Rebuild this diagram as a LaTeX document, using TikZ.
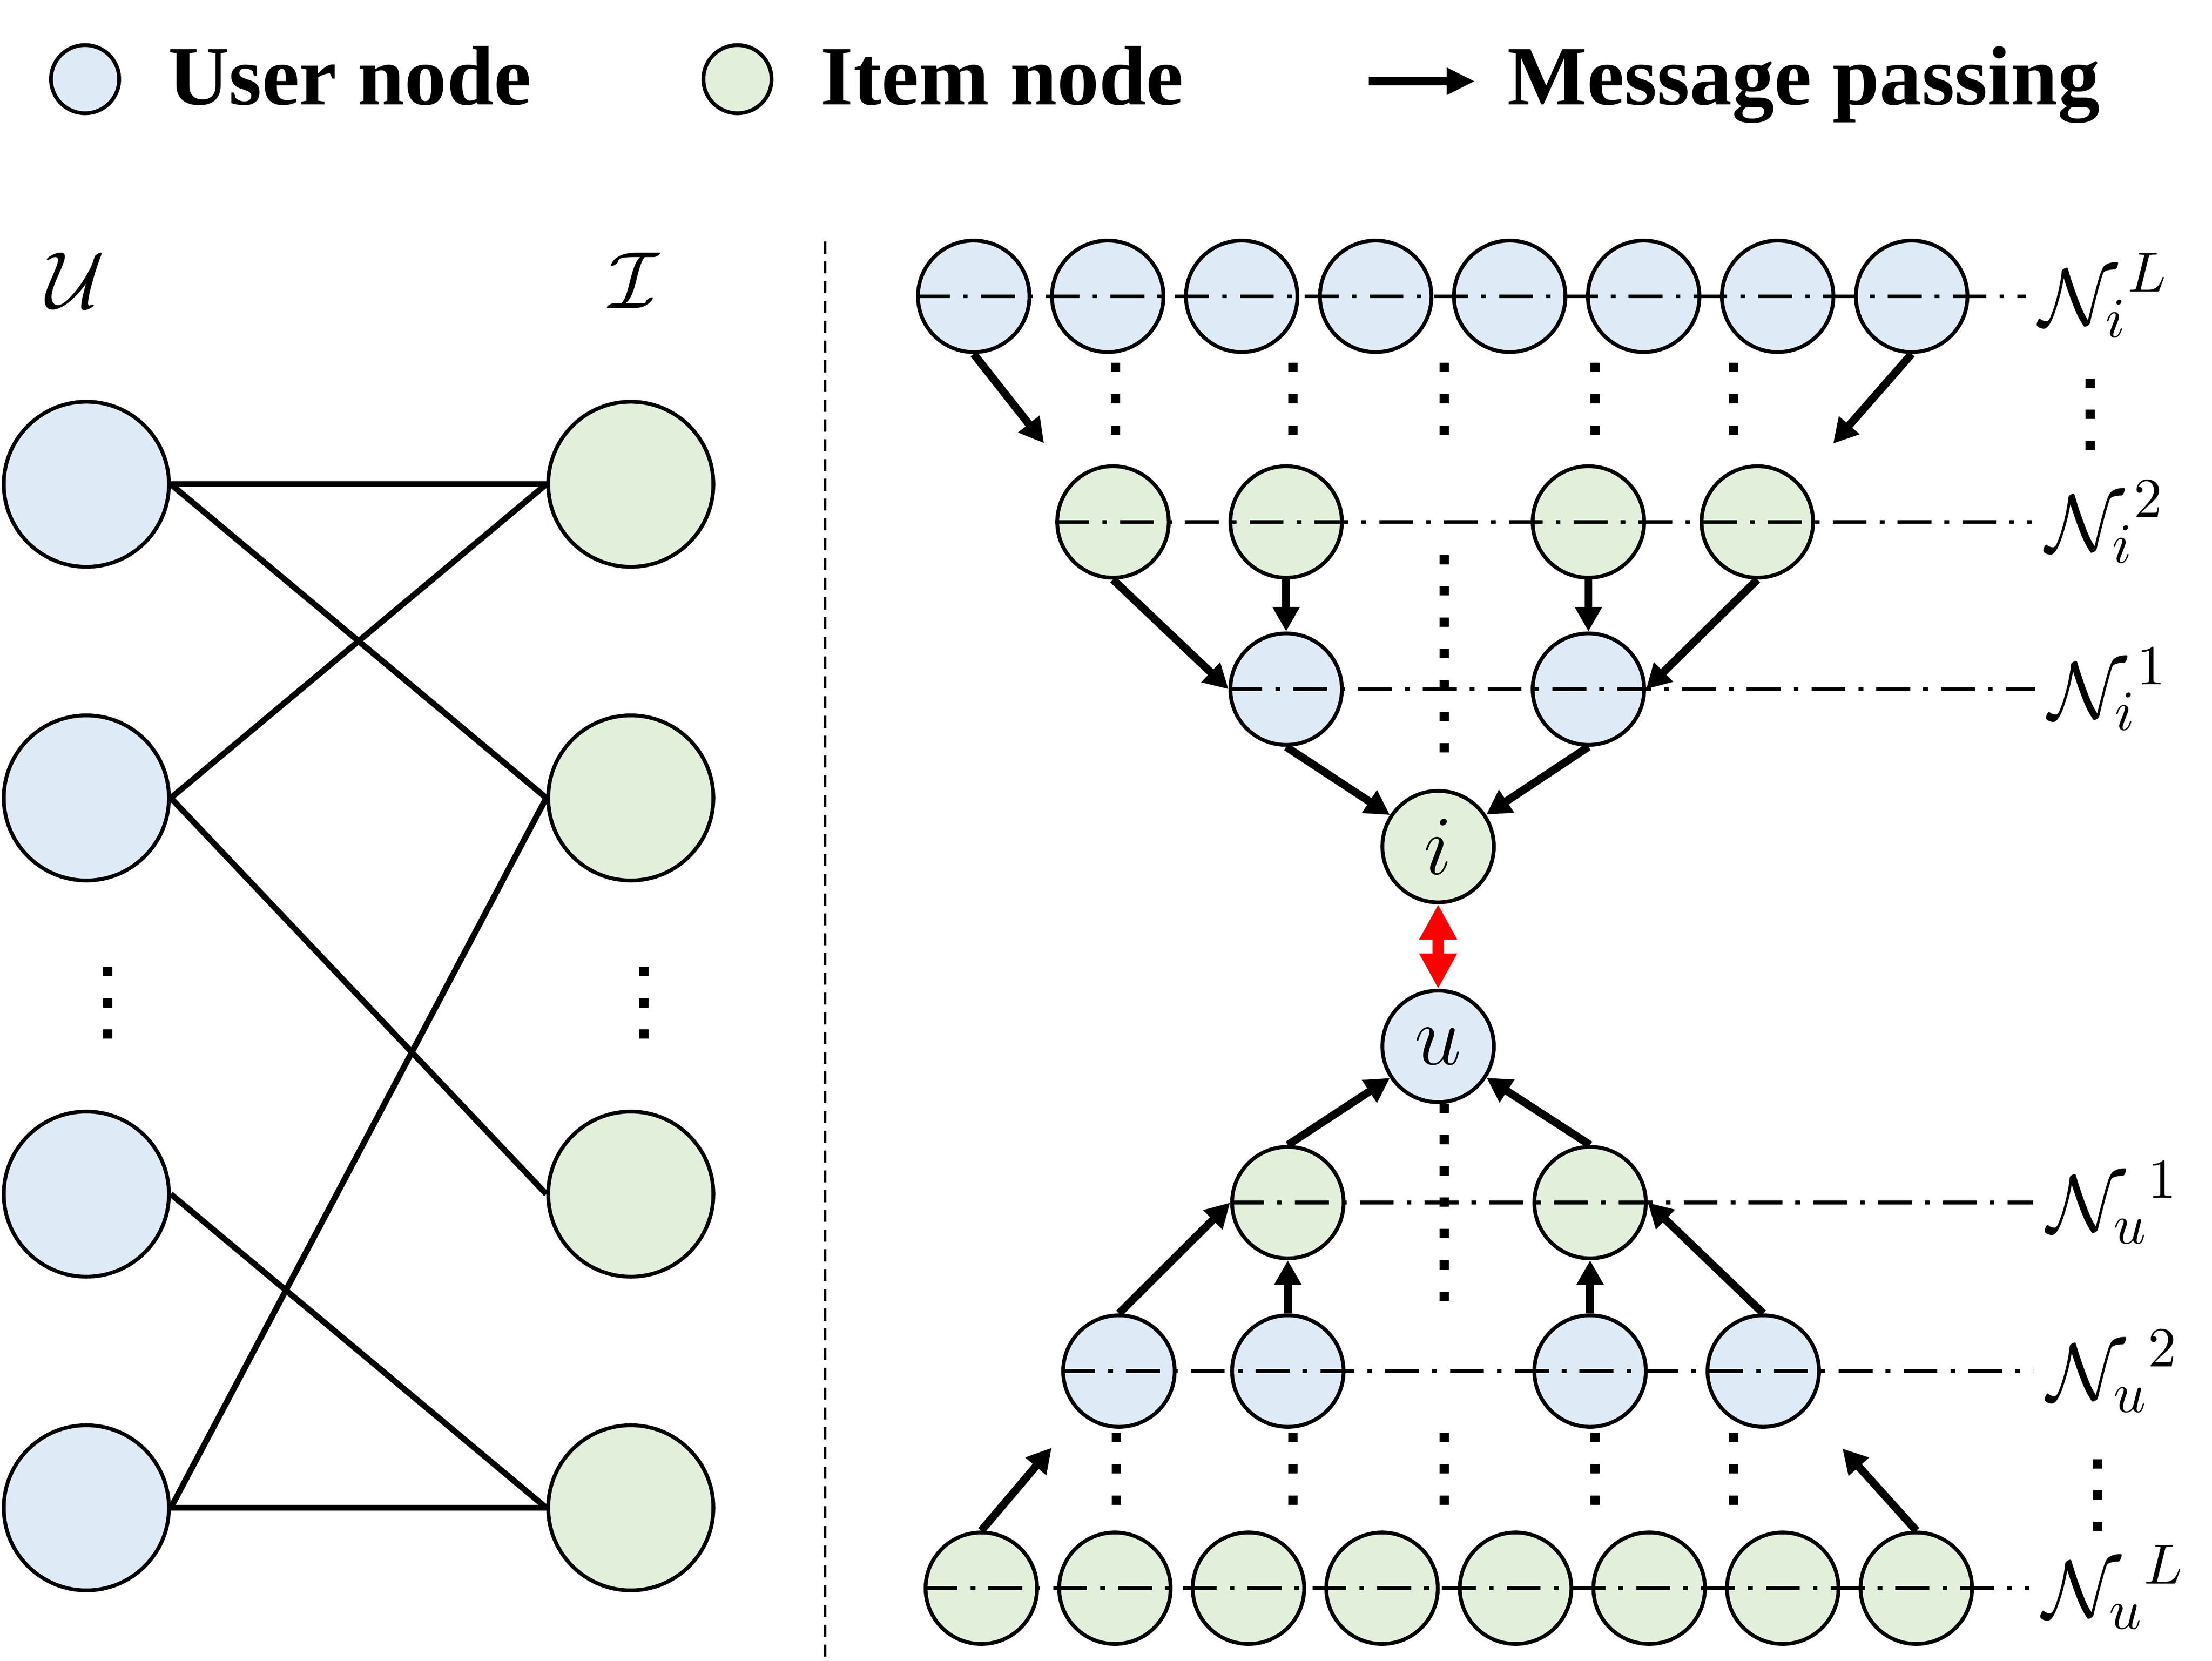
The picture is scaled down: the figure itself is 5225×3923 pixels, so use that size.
\RequirePackage{fix-cm}
\documentclass[tikz,border=0pt]{standalone}
\usepackage[no-math]{fontspec}
\setmainfont{Liberation Serif}
\usetikzlibrary{arrows.meta,calc}
\definecolor{userblue}{HTML}{DEEBF7}
\definecolor{itemgreen}{HTML}{E2EFDA}
\tikzset{
  bub/.style={circle, draw, line width=0.27mm, inner sep=0pt},
  usr/.style={bub, fill=userblue},
  itm/.style={bub, fill=itemgreen},
  keysize/.style={minimum size=4.83mm},
  bigsize/.style={minimum size=11.7mm},
  smallsize/.style={minimum size=7.9mm},
  link/.style={line width=0.42mm},
  msg/.style={line width=0.56mm, -{Stealth[inset=0pt, length=1.74mm, width=1.83mm]}},
  match/.style={red, line width=0.81mm, {Stealth[inset=0pt, length=2.5mm, width=2.5mm]}-{Stealth[inset=0pt, length=2.5mm, width=2.5mm]}},
  rowline/.style={line width=0.27mm, dash pattern=on 2.4mm off 0.93mm on 0.33mm off 0.93mm},
  dotcol/.style={line width=0.66mm, dash pattern=on 0.66mm off 1.56mm},
  divider/.style={line width=0.2mm, dash pattern=on 0.85mm off 0.55mm},
  mathlbl/.style={inner sep=0pt, font=\fontsize{16.3}{19}\selectfont},
  levellbl/.style={mathlbl, anchor=base west},
  legendtxt/.style={inner sep=0pt, anchor=base west, font=\fontsize{17}{20}\selectfont\bfseries}
}

\begin{document}
\begin{tikzpicture}[x=0.03mm, y=-0.03mm]
		\useasboundingbox (0,0) rectangle (5225,3923);

		% legend
		\node[usr, keysize] (keyuser) at (201,187) {};
		\node[legendtxt] (keyusertxt) at (395,247) {User node};
		\node[itm, keysize] (keyitem) at (1742,187) {};
		\node[legendtxt] (keyitemtxt) at (1936,247) {Item node};
		\coordinate (keytail) at (3233,192);
		\coordinate (keytip) at (3484,192);
		\draw[line width=0.6mm, -{Stealth[inset=0pt, length=2mm, width=1.8mm]}] (keytail) -- (keytip);
		\node[legendtxt] (keymsgtxt) at (3558,247) {Message passing};

		% bipartite graph
		\node[mathlbl] (calU) at (178,663) {$\mathcal{U}$};
		\node[mathlbl] (calI) at (1497,663) {$\mathcal{I}$};

		\node[usr, bigsize] (user1) at (204,1144) {};
		\node[usr, bigsize] (user2) at (204,1885) {};
		\node[usr, bigsize] (user3) at (204,2821) {};
		\node[usr, bigsize] (user4) at (204,3562) {};

		\node[itm, bigsize] (item1) at (1490,1144) {};
		\node[itm, bigsize] (item2) at (1490,1885) {};
		\node[itm, bigsize] (item3) at (1490,2821) {};
		\node[itm, bigsize] (item4) at (1490,3562) {};

		\draw[link] (user1.east) -- (item1.west);
		\draw[link] (user1.east) -- (item2.west);
		\draw[link] (user2.east) -- (item1.west);
		\draw[link] (user2.east) -- (item3.west);
		\draw[link] (user3.east) -- (item4.west);
		\draw[link] (user4.east) -- (item2.west);
		\draw[link] (user4.east) -- (item4.west);

		\draw[dotcol] (254,2284) -- (254,2454);
		\draw[dotcol] (1521,2284) -- (1521,2454);

		\draw[divider] (1949,571) -- (1949,3923);

		% neighbours of the item
		\node[usr, smallsize] (niL1) at (2300,700) {};
		\node[usr, smallsize] (niL2) at (2616.5,700) {};
		\node[usr, smallsize] (niL3) at (2933,700) {};
		\node[usr, smallsize] (niL4) at (3249.5,700) {};
		\node[usr, smallsize] (niL5) at (3566,700) {};
		\node[usr, smallsize] (niL6) at (3882.5,700) {};
		\node[usr, smallsize] (niL7) at (4199,700) {};
		\node[usr, smallsize] (niL8) at (4515.5,700) {};

		\node[itm, smallsize] (ni2a) at (2629,1233) {};
		\node[itm, smallsize] (ni2b) at (3038,1233) {};
		\node[itm, smallsize] (ni2c) at (3752,1233) {};
		\node[itm, smallsize] (ni2d) at (4151,1233) {};

		\node[usr, smallsize] (ni1a) at (3038,1628) {};
		\node[usr, smallsize] (ni1b) at (3752,1628) {};

		\node[itm, smallsize, font=\fontsize{17}{20}\selectfont] (nodei) at (3397,2000) {$i$};
		\node[usr, smallsize, font=\fontsize{17}{20}\selectfont] (nodeu) at (3397,2472) {$u$};

		% neighbours of the user
		\node[itm, smallsize] (nu1a) at (3042,2841) {};
		\node[itm, smallsize] (nu1b) at (3756,2841) {};

		\node[usr, smallsize] (nu2a) at (2643,3239) {};
		\node[usr, smallsize] (nu2b) at (3042,3239) {};
		\node[usr, smallsize] (nu2c) at (3756,3239) {};
		\node[usr, smallsize] (nu2d) at (4165,3239) {};

		\node[itm, smallsize] (nuL1) at (2318,3752) {};
		\node[itm, smallsize] (nuL2) at (2633.5,3752) {};
		\node[itm, smallsize] (nuL3) at (2949,3752) {};
		\node[itm, smallsize] (nuL4) at (3264.5,3752) {};
		\node[itm, smallsize] (nuL5) at (3580,3752) {};
		\node[itm, smallsize] (nuL6) at (3895.5,3752) {};
		\node[itm, smallsize] (nuL7) at (4211,3752) {};
		\node[itm, smallsize] (nuL8) at (4526.5,3752) {};

		% hop labels
		\node[levellbl] (lbliL) at (4815,768) {${\mathcal{N}_i}^L$};
		\node[levellbl] (lbli2) at (4830,1301) {${\mathcal{N}_i}^2$};
		\node[levellbl] (lbli1) at (4837,1696) {${\mathcal{N}_i}^1$};
		\node[levellbl] (lblu1) at (4833,2909) {${\mathcal{N}_u}^1$};
		\node[levellbl] (lblu2) at (4833,3307) {${\mathcal{N}_u}^2$};
		\node[levellbl] (lbluL) at (4823,3820) {${\mathcal{N}_u}^L$};

		\draw[rowline] (niL1.west) -- ($(lbliL.base west |- niL1.west)+(-30,0)$);
		\draw[rowline] (ni2a.west) -- ($(lbli2.base west |- ni2a.west)+(-30,0)$);
		\draw[rowline] (ni1a.west) -- ($(lbli1.base west |- ni1a.west)+(-30,0)$);
		\draw[rowline] (nu1a.west) -- ($(lblu1.base west |- nu1a.west)+(-30,0)$);
		\draw[rowline] (nu2a.west) -- ($(lblu2.base west |- nu2a.west)+(-30,0)$);
		\draw[rowline] (nuL1.west) -- ($(lbluL.base west |- nuL1.west)+(-30,0)$);

		% skipped hops
		\draw[dotcol] (2635,857) -- (2635,1027);
		\draw[dotcol] (3054,857) -- (3054,1027);
		\draw[dotcol] (3411,857) -- (3411,1027);
		\draw[dotcol] (3768,857) -- (3768,1027);
		\draw[dotcol] (4095,857) -- (4095,1027);
		\draw[dotcol] (4937,894) -- (4937,1064);
		\draw[dotcol] (3411,1311) -- (3411,1777);

		\draw[dotcol] (3411,2607) -- (3411,3073);
		\draw[dotcol] (2637,3385) -- (2637,3555);
		\draw[dotcol] (3054,3385) -- (3054,3555);
		\draw[dotcol] (3411,3385) -- (3411,3555);
		\draw[dotcol] (3768,3385) -- (3768,3555);
		\draw[dotcol] (4095,3385) -- (4095,3555);
		\draw[dotcol] (4955,3447) -- (4955,3617);

		% message passing towards i
		\coordinate (tipiL) at (2466,1047);
		\coordinate (tipiR) at (4330,1048);
		\draw[msg] (niL1.south) -- (tipiL);
		\draw[msg] (niL8.south) -- (tipiR);
		\draw[msg] (ni2a.south) -- (ni1a.west);
		\draw[msg] (ni2b.south) -- (ni1a.north);
		\draw[msg] (ni2c.south) -- (ni1b.north);
		\draw[msg] (ni2d.south) -- (ni1b.east);
		\draw[msg] (ni1a.south) -- (nodei);
		\draw[msg] (ni1b.south) -- (nodei);

		% message passing towards u
		\coordinate (tipuL) at (2484,3420);
		\coordinate (tipuR) at (4352,3422);
		\draw[msg] (nuL1.north) -- (tipuL);
		\draw[msg] (nuL8.north) -- (tipuR);
		\draw[msg] (nu2a.north) -- (nu1a.west);
		\draw[msg] (nu2b.north) -- (nu1a.south);
		\draw[msg] (nu2c.north) -- (nu1b.south);
		\draw[msg] (nu2d.north) -- (nu1b.east);
		\draw[msg] (nu1a.north) -- (nodeu);
		\draw[msg] (nu1b.north) -- (nodeu);

		\draw[match] (nodei.south) -- (nodeu.north);
	\end{tikzpicture}
\end{document}
